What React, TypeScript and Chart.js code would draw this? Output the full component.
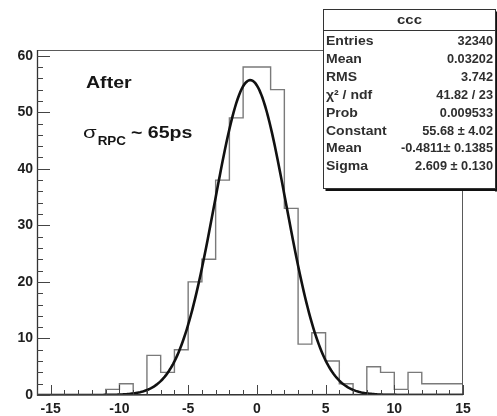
import React, { useEffect, useRef } from 'react';
import { Chart, registerables } from 'chart.js';

Chart.register(...registerables);

// Histogram "ccc": unit-width bins, low edges from -16 to 14
const binLowEdges = [
  -16, -15, -14, -13, -12, -11, -10, -9, -8, -7, -6, -5, -4, -3, -2, -1,
  0, 1, 2, 3, 4, 5, 6, 7, 8, 9, 10, 11, 12, 13, 14,
];
const binCounts = [
  0, 0, 0, 0, 0, 1, 2, 0, 7, 4, 8, 20, 24, 38, 49, 58,
  58, 54, 33, 9, 11, 6, 2, 0, 5, 4, 1, 4, 2, 2, 2,
];
const xUpperEdge = 15;

// Gaussian fit parameters (as printed in the stats box)
const fitConstant = 55.68;
const fitMean = -0.4811;
const fitSigma = 2.609;

const xMajorTicks = [-15, -10, -5, 0, 5, 10, 15];
const xMinorTicks = [
  -16, -15, -14, -13, -12, -11, -10, -9, -8, -7, -6, -5, -4, -3, -2, -1,
  0, 1, 2, 3, 4, 5, 6, 7, 8, 9, 10, 11, 12, 13, 14, 15,
];
const yMajorTicks = [0, 10, 20, 30, 40, 50, 60];
const yMinorTicks = [
  0, 2, 4, 6, 8, 10, 12, 14, 16, 18, 20, 22, 24, 26, 28, 30,
  32, 34, 36, 38, 40, 42, 44, 46, 48, 50, 52, 54, 56, 58, 60,
];

const statsTitle = 'ccc';
const statsLabels = ['Entries', 'Mean', 'RMS', 'χ² / ndf', 'Prob', 'Constant', 'Mean', 'Sigma'];
const statsValues = [
  '32340', '0.03202', '3.742', '41.82 / 23', '0.009533',
  '55.68 ± 4.02', '-0.4811± 0.1385', '2.609 ± 0.130',
];

const FONT = '"Liberation Sans", Arial, Helvetica, sans-serif';

function gaussian(x: number): number {
  const d = (x - fitMean) / fitSigma;
  return fitConstant * Math.exp(-0.5 * d * d);
}

function drawStretched(
  ctx: CanvasRenderingContext2D,
  text: string,
  x: number,
  y: number,
  font: string,
  align: CanvasTextAlign,
  sx: number,
  color: string,
): number {
  ctx.save();
  ctx.font = font;
  ctx.fillStyle = color;
  ctx.textAlign = align;
  ctx.textBaseline = 'alphabetic';
  ctx.translate(x, y);
  ctx.scale(sx, 1);
  ctx.fillText(text, 0, 0);
  const w = ctx.measureText(text).width * sx;
  ctx.restore();
  return w;
}

const rootDecorations = {
  id: 'rootDecorations',
  afterDatasetsDraw(chart: any) {
    const { ctx, chartArea: a } = chart;
    const xs = chart.scales.x;
    const ys = chart.scales.y;
    ctx.save();

    // frame
    ctx.strokeStyle = '#5a5a5a';
    ctx.lineWidth = 1;
    ctx.strokeRect(Math.round(a.left) + 0.5, Math.round(a.top) + 0.5,
      Math.round(a.right - a.left) - 1, Math.round(a.bottom - a.top) - 1);

    // axis lines, slightly heavier
    ctx.strokeStyle = '#333';
    ctx.lineWidth = 1.3;
    ctx.beginPath();
    ctx.moveTo(a.left + 0.5, a.top);
    ctx.lineTo(a.left + 0.5, a.bottom);
    ctx.lineTo(a.right, a.bottom - 0.5);
    ctx.stroke();

    // inward ticks
    ctx.strokeStyle = '#444';
    ctx.lineWidth = 1;
    ctx.beginPath();
    for (const v of xMinorTicks) {
      const px = Math.round(xs.getPixelForValue(v)) + 0.5;
      const len = xMajorTicks.includes(v) ? 10 : 5;
      ctx.moveTo(px, a.bottom);
      ctx.lineTo(px, a.bottom - len);
    }
    for (const v of yMinorTicks) {
      const py = Math.round(ys.getPixelForValue(v)) + 0.5;
      const len = yMajorTicks.includes(v) ? 13 : 6;
      ctx.moveTo(a.left, py);
      ctx.lineTo(a.left + len, py);
    }
    ctx.stroke();

    // annotations
    drawStretched(ctx, 'After', 86, 88, `bold 17px ${FONT}`, 'left', 1.15, '#151515');
    let cx = 83;
    cx += drawStretched(ctx, 'σ', cx, 138, `17px ${FONT}`, 'left', 1.3, '#151515');
    cx += drawStretched(ctx, 'RPC', cx + 1, 145, `bold 12px ${FONT}`, 'left', 1.12, '#151515') + 1;
    drawStretched(ctx, '~ 65ps', cx + 5, 138, `bold 17px ${FONT}`, 'left', 1.15, '#151515');

    ctx.restore();
  },
  afterDraw(chart: any) {
    const { ctx } = chart;
    ctx.save();
    const bx = 323.5, by = 9.5, bw = 172, bh = 179;
    // shadow
    ctx.fillStyle = '#111';
    ctx.fillRect(bx + 2, by + bh - 0.5, bw, 3);
    ctx.fillRect(bx + bw - 0.5, by + 2, 3, bh + 1);
    // box
    ctx.fillStyle = '#fff';
    ctx.fillRect(bx, by, bw, bh);
    ctx.strokeStyle = '#333';
    ctx.lineWidth = 1;
    ctx.strokeRect(bx, by, bw, bh);
    // title separator
    ctx.beginPath();
    ctx.moveTo(bx, 30.5);
    ctx.lineTo(bx + bw, 30.5);
    ctx.stroke();

    drawStretched(ctx, statsTitle, bx + bw / 2, 24, `bold 13px ${FONT}`, 'center', 1.15, '#2a2a2a');
    const rowY0 = 45;
    const rowStep = 17.9;
    statsLabels.forEach((label, i) => {
      const y = rowY0 + i * rowStep;
      drawStretched(ctx, label, 326, y, `bold 12.5px ${FONT}`, 'left', 1.12, '#2f2f2f');
      drawStretched(ctx, statsValues[i], 493, y, `bold 12.5px ${FONT}`, 'right', 1.02, '#2f2f2f');
    });
    ctx.restore();
  },
};

export default function App() {
  const canvasRef = useRef<HTMLCanvasElement | null>(null);

  useEffect(() => {
    const canvas = canvasRef.current;
    if (!canvas) return;

    // each bin's count holds from its low edge up to the next edge
    const histPoints = binLowEdges.map((x, i) => ({ x, y: binCounts[i] }));
    histPoints.push({ x: xUpperEdge, y: binCounts[binCounts.length - 1] });
    histPoints.push({ x: xUpperEdge, y: 0 });

    const fitPoints: { x: number; y: number }[] = [];
    const xMin = binLowEdges[0];
    const nSteps = 310;
    for (let k = 0; k <= nSteps; k++) {
      const x = xMin + ((xUpperEdge - xMin) * k) / nSteps;
      fitPoints.push({ x, y: gaussian(x) });
    }

    const chart = new Chart(canvas, {
      type: 'line',
      data: {
        datasets: [
          {
            label: 'fit',
            data: fitPoints,
            borderColor: '#111',
            borderWidth: 2.6,
            pointRadius: 0,
            tension: 0,
            order: 0,
          },
          {
            label: 'ccc',
            data: histPoints,
            borderColor: '#7a7a7a',
            borderWidth: 1.4,
            pointRadius: 0,
            stepped: 'before',
            order: 1,
          },
        ],
      },
      options: {
        responsive: false,
        animation: false,
        layout: { padding: { top: 50, right: 34, left: 0, bottom: 0 } },
        plugins: {
          legend: { display: false },
          tooltip: { enabled: false },
          title: { display: false },
        },
        scales: {
          x: {
            type: 'linear',
            min: binLowEdges[0],
            max: xUpperEdge,
            afterFit: (s: any) => { s.height = 21; },
            afterBuildTicks: (s: any) => { s.ticks = xMajorTicks.map((value) => ({ value })); },
            grid: { display: false, drawTicks: false },
            border: { display: false },
            ticks: {
              padding: 6,
              color: '#1e1e1e',
              font: { family: FONT, size: 14, weight: 'bold' },
              maxRotation: 0,
              autoSkip: false,
            },
          },
          y: {
            type: 'linear',
            min: 0,
            max: 61,
            afterFit: (s: any) => { s.width = 37; },
            afterBuildTicks: (s: any) => { s.ticks = yMajorTicks.map((value) => ({ value })); },
            grid: { display: false, drawTicks: false },
            border: { display: false },
            ticks: {
              padding: 4,
              color: '#1e1e1e',
              font: { family: FONT, size: 14, weight: 'bold' },
              autoSkip: false,
            },
          },
        },
      },
      plugins: [rootDecorations],
    });

    return () => chart.destroy();
  }, []);

  return (
    <div style={{ position: 'fixed', left: 0, top: 0, width: 497, height: 416, background: '#fff' }}>
      <canvas ref={canvasRef} width={497} height={416} style={{ display: 'block' }} />
    </div>
  );
}
